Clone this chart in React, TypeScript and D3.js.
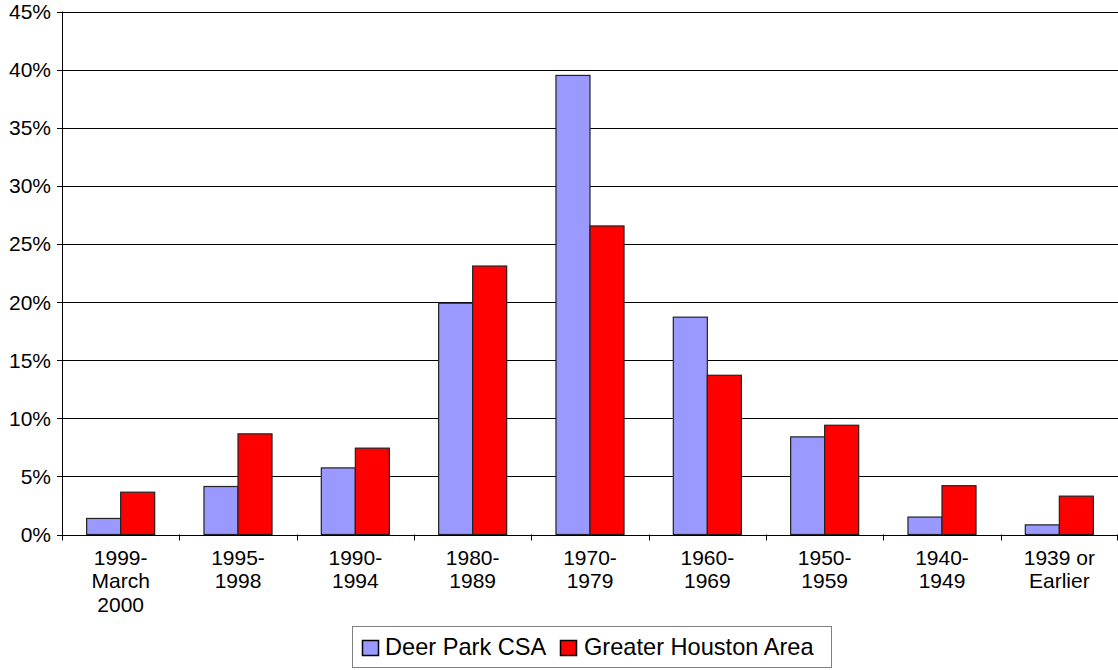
import React from "react";
import * as d3 from "d3";

const categories: string[][] = [
  ["1999-", "March", "2000"],
  ["1995-", "1998"],
  ["1990-", "1994"],
  ["1980-", "1989"],
  ["1970-", "1979"],
  ["1960-", "1969"],
  ["1950-", "1959"],
  ["1940-", "1949"],
  ["1939 or", "Earlier"],
];
const deerPark: number[] = [1.38, 4.13, 5.73, 19.9, 39.5, 18.7, 8.4, 1.5, 0.83];
const houston: number[] = [3.64, 8.66, 7.43, 23.1, 26.55, 13.7, 9.4, 4.2, 3.3];
const yTicks: number[] = [0, 5, 10, 15, 20, 25, 30, 35, 40, 45];
const seriesNames = ["Deer Park CSA", "Greater Houston Area"];
const seriesColors = ["#9999FF", "#FF0000"];

export default function App() {
  const W = 1118, H = 670;
  const left = 62, right = 1118, top = 11.5, bottom = 534.5;
  const keys = categories.map((c) => c.join(" "));
  const x = d3.scaleBand<string>().domain(keys).range([left, right]).padding(0);
  const y = d3.scaleLinear().domain([0, 45]).range([bottom, top]);
  const bw = x.bandwidth();
  const barW = bw * 0.29;
  const font = "Arial, 'Liberation Sans', sans-serif";
  const series = [deerPark, houston];

  return (
    <svg width={W} height={H} style={{ position: "absolute", left: 0, top: 0, background: "#fff" }} fontFamily={font}>
      {/* gridlines */}
      {yTicks.map((t) => (
        <line key={"g" + t} x1={left - 5} x2={right} y1={Math.round(y(t)) + 0.5} y2={Math.round(y(t)) + 0.5} stroke="#000" strokeWidth={1} />
      ))}
      {/* bars */}
      {keys.map((k, i) => {
        const cx = (x(k) as number) + bw / 2;
        return series.map((s, j) => {
          const v = s[i];
          const x0 = cx - barW + j * barW;
          return (
            <rect key={k + j} x={x0} y={y(v)} width={barW} height={y(0) - y(v)} fill={seriesColors[j]} stroke="#222" strokeWidth={1.2} />
          );
        });
      })}
      {/* axes */}
      <line x1={left + 0.5} x2={left + 0.5} y1={top} y2={bottom + 1} stroke="#000" strokeWidth={1} />
      <line x1={left} x2={right} y1={Math.round(y(0)) + 0.5} y2={Math.round(y(0)) + 0.5} stroke="#000" strokeWidth={1} />
      {keys.map((k, i) => (
        <line key={"t" + i} x1={Math.round(x(k) as number) + 0.5} x2={Math.round(x(k) as number) + 0.5} y1={bottom} y2={bottom + 6} stroke="#000" />
      ))}
      <line x1={right - 0.5} x2={right - 0.5} y1={bottom} y2={bottom + 6} stroke="#000" />
      {/* y labels */}
      {yTicks.map((t) => (
        <text key={"yl" + t} x={51} y={y(t) + 7.5} textAnchor="end" fontSize={21} fill="#000">
          {t + "%"}
        </text>
      ))}
      {/* x labels */}
      {categories.map((lines, i) => (
        <text key={"xl" + i} x={(x(keys[i]) as number) + bw / 2} y={564.5} textAnchor="middle" fontSize={21} fill="#000">
          {lines.map((l, li) => (
            <tspan key={li} x={(x(keys[i]) as number) + bw / 2} dy={li === 0 ? 0 : 23.5}>
              {l}
            </tspan>
          ))}
        </text>
      ))}
      {/* legend */}
      <rect x={352.5} y={626.5} width={479} height={41} fill="#fff" stroke="#808080" strokeWidth={1} />
      <rect x={362.5} y={640.5} width={16} height={15} fill={seriesColors[0]} stroke="#000" strokeWidth={1.5} />
      <text x={385} y={655} fontSize={23.6} fill="#000">{seriesNames[0]}</text>
      <rect x={560.5} y={640.5} width={16} height={15} fill={seriesColors[1]} stroke="#000" strokeWidth={1.5} />
      <text x={584} y={655} fontSize={23.6} fill="#000">{seriesNames[1]}</text>
    </svg>
  );
}
